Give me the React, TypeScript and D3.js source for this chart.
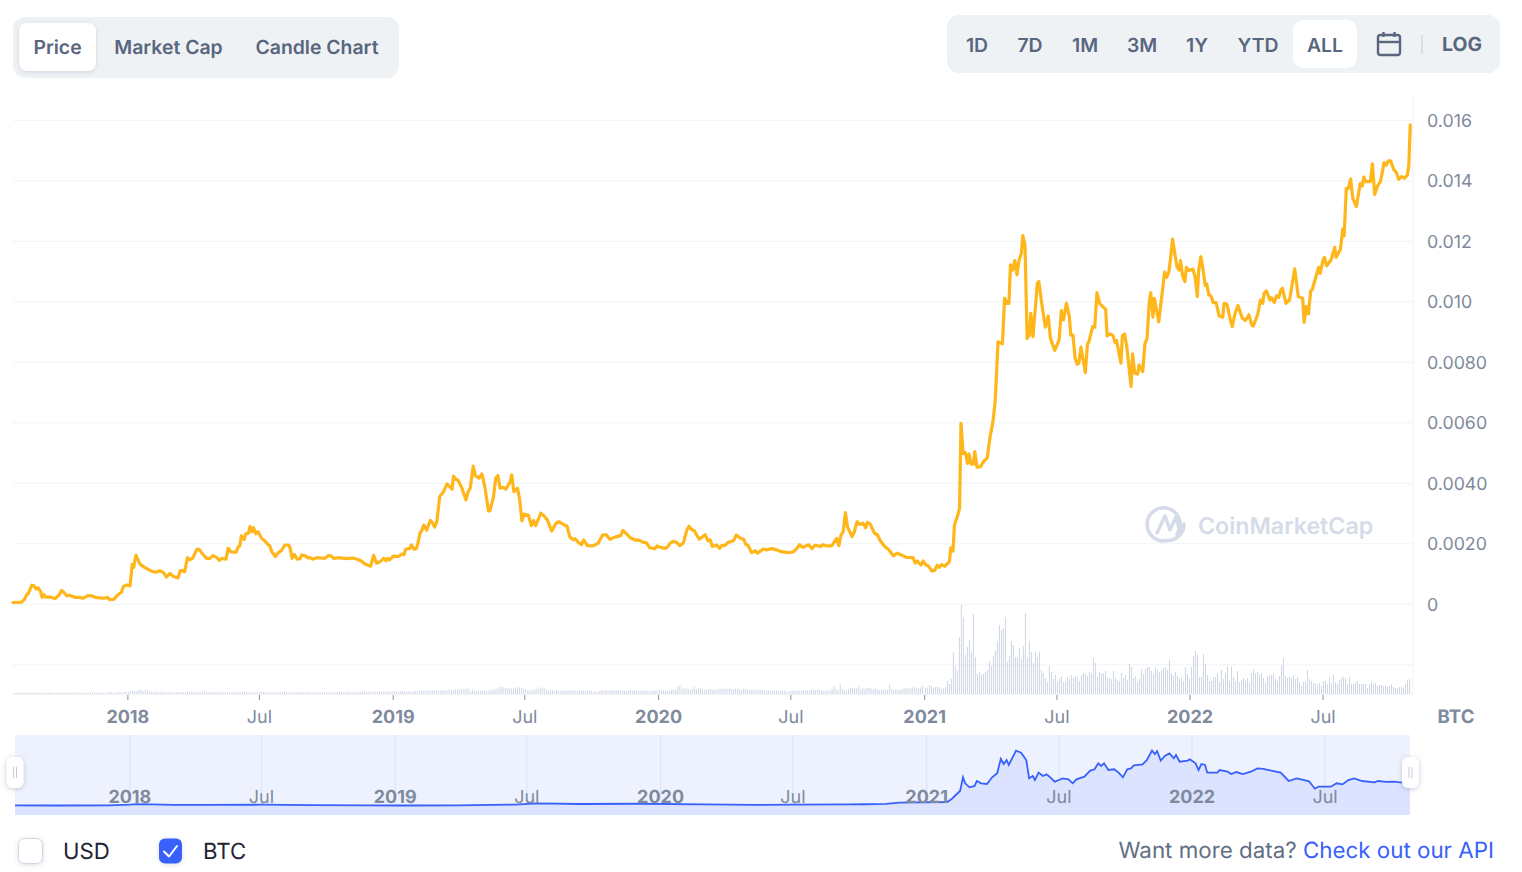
import * as d3 from "d3";

// x values are days since 2018-01-01, y values are BTC
const priceDays = [
  -158,-146,-142,-139,-137,-132,-129,-126,-123,-120,-118,-116,-113,-107,-100,-95,-91,-88,-84,-80,-73,-66,-61,-55,-50,-45,-39,-32,-28,-25,-19,-15,-9,-6,-1,3,6,8,11,14,17,23,33,39,44,49,53,58,62,69,72,75,78,82,85,89,95,98,102,108,113,117,122,126,129,135,138,142,149,152,154,156,160,162,166,168,171,173,176,179,184,189,193,195,198,203,207,211,216,221,223,226,229,233,237,239,244,248,250,254,260,266,271,276,279,283,289,301,310,317,321,326,334,338,342,347,352,355,357,360,365,372,377,380,382,388,390,394,397,399,402,404,407,411,416,419,422,425,429,434,439,446,448,451,454,459,465,468,471,475,478,483,
  487,491,496,498,503,506,509,512,516,520,526,528,531,536,539,542,545,551,555,558,561,568,571,577,583,589,593,599,604,608,613,615,620,624,627,632,640,647,653,658,663,670,678,681,686,691,698,702,709,713,718,725,728,733,739,742,746,750,755,759,764,769,772,776,779,782,786,794,798,801,804,810,814,817,821,826,833,837,842,847,850,853,858,863,866,874,879,886,892,899,908,915,920,924,928,936,941,945,950,953,956,961,968,975,978,981,984,987,990,996,999,1003,1007,1011,1015,1017,1021,1027,1031,1035,1041,1046,1049,1053,1058,1064,1071,1080,1083,1086,1091,1094,1098,1101,1106,1110,1113,1116,1119,1124,1130,1132,1135,1137,1141,
  1144,1146,1149,1152,1155,1157,1160,1163,1165,1168,1173,1177,1182,1186,1190,1193,1197,1203,1206,1209,1212,1214,1217,1220,1223,1226,1229,1231,1234,1237,1240,1242,1245,1251,1253,1257,1262,1266,1269,1275,1281,1284,1287,1291,1295,1297,1300,1303,1306,1308,1311,1317,1320,1322,1327,1330,1333,1337,1345,1347,1351,1355,1358,1360,1366,1368,1371,1374,1380,1382,1385,1389,1391,1396,1399,1402,1405,1407,1410,1412,1418,1421,1423,1426,1429,1432,1434,1437,1439,1443,1446,1448,1451,1454,1456,1459,1465,1468,1471,1473,1476,1479,1482,1484,1487,1490,1493,1497,1501,1506,1508,1512,1516,
  1519,1523,1527,1533,1537,1542,1546,1548,1554,1558,1561,1563,1566,1571,1573,1577,1580,1583,1586,1588,1593,1598,1605,1610,1616,1618,1621,1624,1627,1629,1638,1640,1644,1646,1649,1655,1660,1662,1668,1671,1673,1676,1679,1682,1685,1690,1695,1698,1700,1703,1709,1712,1715,1719,1723,1728,1731,1734,1737,1741,1745,1748,1752,1756,1760,1762,1764,
];
const priceValues = [
  .00006,.00007,.00017,.00033,.00035,.00063,.00061,.0005,.00054,.00042,.00023,.00033,.00024,.00024,.00019,.0003,.00046,.00039,.00028,.0003,.00023,.00023,.0002,.00029,.00028,.00023,.00021,.0002,.00023,.00015,.00017,.00029,.00039,.0006,.00064,.00061,.00132,.00122,.00162,.00147,.00132,.00122,.00109,.00106,.00111,.00105,.0009,.00102,.00093,.00087,.00111,.00112,.00107,.00154,.00147,.00152,.00182,.00182,.00169,.00152,.00152,.00161,.00155,.00145,.00152,.00149,.00185,.00173,.00172,.00191,.00193,.00226,.00214,.00233,.00235,.00257,.0024,.00253,.00233,.0024,.00218,.00208,.00197,.00194,.00174,.00158,.00171,.00177,.00196,.00196,.00188,.00152,.00165,.00149,.00151,.00163,.0016,.00153,.00155,.00149,.00154,.00153,.00152,.00161,.00161,.00152,.00154,.00151,.00153,.00147,.00143,.00133,.00126,.00162,.00136,.00141,.00152,.00144,.00152,.00147,.00159,.00158,.00166,.00164,.00182,.00185,.00196,.00182,.00185,.00202,.00237,.00242,.00262,.00245,.00277,.0027,.00255,.00273,.00356,.00371,.00398,.00381,.00424,.00413,.00411,.00387,.00345,.00372,.00384,.00457,.00425,.00417,
  .00431,.00389,.00309,.00309,.00356,.00417,.00426,.00384,.00387,.00381,.00406,.00428,.00372,.00384,.00345,.00276,.00298,.00294,.0026,.00277,.0026,.00301,.00296,.00279,.00242,.00268,.00273,.00264,.00259,.00222,.00213,.00217,.00204,.00197,.00213,.00194,.00193,.00202,.00229,.0023,.00215,.00222,.00227,.00244,.00233,.0022,.00212,.00213,.00205,.00204,.00187,.00184,.00193,.00188,.00185,.00188,.00202,.00208,.00205,.00194,.00202,.00246,.00258,.00246,.00244,.00231,.00215,.0023,.0021,.00213,.00191,.00196,.00185,.00195,.00194,.00205,.0021,.00229,.00219,.00215,.00198,.00195,.00171,.00177,.00169,.00183,.0018,.00184,.0018,.00174,.00171,.00173,.00184,.00197,.00188,.00197,.00184,.00195,.00193,.00191,.00197,.00193,.00193,.00218,.00194,.00229,.0024,.00303,.00255,.00224,.00237,.00273,.00264,.00268,.00253,.00271,.00266,.00235,.0023,.0021,.00191,.00182,.00173,.0016,.00169,.00163,.00155,.00154,.00136,.00143,.0013,.00143,.00129,.00127,.0011,.00112,.00129,.00122,.00131,.00126,.00141,.00187,.00176,.00262,.0029,
  .00317,.00598,.00499,.00501,.00466,.00497,.00463,.00463,.00505,.00453,.00455,.00472,.00483,.00554,.00604,.0067,.00868,.00861,.01012,.00995,.00995,.01122,.01105,.01136,.01089,.01138,.0116,.01219,.01188,.00879,.0089,.00962,.00885,.01061,.01067,.00995,.00916,.00953,.00879,.00839,.00874,.00971,.0094,.00995,.00951,.0089,.0089,.00813,.00793,.00797,.0085,.00766,.00861,.00868,.00918,.00916,.0103,.00993,.00975,.00887,.00894,.00889,.00865,.00872,.00797,.00887,.00894,.00852,.0072,.00828,.00764,.00761,.00791,.00769,.00861,.00879,.01001,.0103,.00949,.01011,.00934,.00995,.01034,.01098,.01081,.011,.01138,.01207,.01177,.01116,.01105,.01136,.01083,.01067,.01114,.01103,.01108,.01083,.01017,.01105,.01149,.01105,.01054,.01059,.01023,.01019,.00997,.00997,.00954,.00949,.00995,.00991,.00946,
  .00918,.00962,.00988,.00946,.00938,.00957,.00923,.0092,.00957,.01006,.00995,.01028,.01036,.01006,.01014,.00998,.0102,.01014,.01039,.01045,.00995,.01006,.01109,.01017,.01012,.00932,.00984,.0096,.01036,.01039,.01114,.01094,.01138,.01147,.01119,.01138,.0118,.01147,.01174,.0124,.01218,.01375,.01375,.01406,.01342,.01315,.0139,.01383,.01412,.01397,.01397,.01456,.01355,.01383,.01397,.0146,.01452,.01466,.01466,.01438,.01427,.01405,.01414,.01409,.01419,.01452,.01585,
];

// relative traded volume, one bar every 2.75 days or so
const volumeEarly = [
  3,4,3,4,3,4,4,3,4,3,4,4,3,4,4,3,4,4,4,3,4,4,3,4,5,4,4,3,4,4,5,4,3,4,4,4,5,4,4,3,4,5,4,4,5,5,6,4,5,5,6,5,6,6,7,8,9,9,8,12,13,9,14,10,7,6,6,7,6,7,6,6,6,
  5,6,5,5,6,5,6,6,5,6,5,7,6,6,6,7,6,7,6,5,6,6,5,6,5,6,5,5,6,5,5,6,6,7,6,6,5,6,5,6,5,5,6,5,6,5,5,5,6,5,6,5,5,6,5,6,6,5,5,6,5,6,5,6,5,5,6,5,5,6,5,6,5,5,6,5,5,6,5,5,6,6,5,6,6,7,6,6,7,6,7,6,7,7,6,7,7,6,7,8,7,7,8,7,8,8,7,8,8,7,8,9,8,8,9,8,9,9,10,9,10,9,10,10,11,10,11,10,10,11,12,12,11,13,12,12,14,13,13,15,14,16,18,
];
const volumeMiddle = [
  8,14,10,9,9,9,9,9,10,10,12,13,14,16,20,22,20,19,17,17,16,17,20,19,20,18,15,14,11,10,13,12,16,16,19,20,17,13,11,11,11,8,13,10,9,10,10,10,10,12,10,10,10,10,10,10,10,10,10,9,6,6,6,9,13,10,11,10,10,12,11,10,12,10,10,10,9,10,12,10,10,10,10,10,10,10,9,9,9,10,10,11,12,12,10,9,9,10,13,13,13,22,25,17,17,17,15,13,15,21,14,17,17,14,13,13,15,15,13,13,13,16,16,16,16,15,17,15,15,17,15,14,13,16,15,14,13,13,13,11,13,13,12,12,10,10,10,10,10,10,9,9,10,10,7,7,10,12,9,10,10,10,12,10,12,10,14,12,12,14,12,12,9,9,12,10,16,25,14,12,31,16,12,12,15,18,20,18,17,22,14,17,15,20,18,17,14,17,14,12,13,13,13,13,28,14,12,14,12,12,14,19,19,17,17,20,20,17,18,20,26,
];
const volumeLate = [
  19,20,27,24,18,21,21,21,15,18,20,39,30,45,126,85,69,171,268,231,117,141,162,126,240,111,60,66,57,60,66,72,99,84,114,129,159,207,192,198,231,96,114,159,147,111,111,138,105,144,243,108,159,126,93,126,111,126,72,63,48,36,84,66,45,57,36,45,54,36,36,51,45,57,48,54,51,39,57,63,63,54,66,63,108,93,51,66,60,63,69,48,48,45,69,48,42,39,63,48,57,42,90,81,48,54,36,45,75,60,75,81,81,69,60,78,72,66,72,78,81,72,102,63,
  54,66,54,45,48,39,81,60,45,81,114,129,117,51,51,120,90,57,39,39,51,51,60,36,72,45,63,84,39,81,51,39,69,36,42,48,39,48,33,63,75,63,66,57,63,48,33,54,54,57,60,45,39,54,84,108,54,48,51,48,57,45,51,36,24,36,36,72,45,39,33,33,27,33,24,39,39,30,48,33,57,36,30,42,48,51,48,30,51,30,30,33,39,30,30,30,30,18,30,36,30,33,24,27,27,24,24,21,24,30,21,18,18,21,21,18,30,42,45,
];

// navigator series, USD
const navDays = [
  -158,-100,-30,0,10,30,60,100,180,250,330,370,450,530,560,620,700,790,860,910,990,1010,1040,1059,1124,1130,1136,1142,1146,1149,1155,1162,1165,1171,1179,1186,1193,1198,1202,1206,1209,1214,1219,1226,1233,1237,1242,1245,1250,1256,1261,1266,1272,1278,1283,1291,1297,1302,1313,1321,1327,1332,1336,1340,1346,1354,1360,1366,1372,1377,1381,1393,1399,1406,1410,1413,1418,1424,1430,1436,1439,1444,1455,1458,1466,1470,1474,1479,1482,1496,1499,1510,1515,1522,1531,1542,1551,1559,1570,1583,1594,1605,1611,1622,1630,1635,1643,1652,1660,1668,1676,1684,1695,1712,1717,1728,1739,1750,1765,
];
const navValues = [
  8,6,9,16,24,20,14,14,16,12,8,6,8,18,32,25,28,20,15,16,20,22,27,42,50,83,137,187,358,283,233,250,312,283,275,358,408,587,524,574,512,603,691,666,574,345,374,324,416,374,395,358,304,324,345,333,283,333,366,441,458,532,499,532,449,458,416,358,458,470,508,520,574,691,649,686,566,628,657,595,636,553,566,582,532,449,524,512,416,416,449,428,399,424,399,428,470,462,441,416,312,345,333,308,216,241,241,241,283,270,324,345,312,295,312,300,304,291,285,
];

const yTickValues = [0.016, 0.014, 0.012, 0.01, 0.008, 0.006, 0.004, 0.002, 0];
const yTickLabels = ["0.016", "0.014", "0.012", "0.010", "0.0080", "0.0060", "0.0040", "0.0020", "0"];
const xTickDays = [0, 181, 365, 546, 730, 912, 1096, 1278, 1461, 1644];
const xTickLabels = ["2018", "Jul", "2019", "Jul", "2020", "Jul", "2021", "Jul", "2022", "Jul"];
const chartTabs = ["Price", "Market Cap", "Candle Chart"];
const rangeTabs = ["1D", "7D", "1M", "3M", "1Y", "YTD", "ALL"];

const FONT = "Inter, sans-serif";
const GRID = "#f1f3f6";
const MUTED = "#808a9d";
const TAB_TEXT = "#58667e";

const x = d3.scaleLinear().domain([-158, 1765]).range([13, 1411]);
const y = d3.scaleLinear().domain([0, 0.016]).range([604.3, 120.3]);
const volY = d3.scaleLinear().domain([0, 268]).range([694, 604.7]);
const navY = d3.scaleLinear().domain([0, 690]).range([806, 750.7]);

const pricePoints = priceDays.map((d, i) => [d, priceValues[i]] as [number, number]);
const navPoints = navDays.map((d, i) => [d, navValues[i]] as [number, number]);

const priceLine = d3.line<[number, number]>().x((d) => x(d[0])).y((d) => y(d[1]));
const navLine = d3.line<[number, number]>().x((d) => x(d[0]) + 2).y((d) => navY(d[1]));
const navArea = d3
  .area<[number, number]>()
  .x((d) => x(d[0]) + 2)
  .y0(815)
  .y1((d) => navY(d[1]));

function spread(values: number[], start: number, end: number) {
  return values.map((v, i) => ({ day: start + (i * (end - start)) / (values.length - 1), v }));
}
const volumeBars = [
  ...spread(volumeEarly, -156, 468),
  ...spread(volumeMiddle, 471, 1093),
  ...spread(volumeLate, 1097, 1763),
];

const isYear = (label: string) => label !== "Jul";

function Handle({ cx }: { cx: number }) {
  return (
    <g>
      <rect x={cx - 8.5} y={757} width={17} height={31} rx={6} fill="#fff" filter="url(#handleShadow)" />
      <line x1={cx - 1.5} x2={cx - 1.5} y1={767} y2={778} stroke="#c4c9d4" />
      <line x1={cx + 1.5} x2={cx + 1.5} y1={767} y2={778} stroke="#c4c9d4" />
    </g>
  );
}

export default function App() {
  const chartTabX = [57.5, 168.5, 317];
  const rangeTabX = [977, 1030, 1085, 1142, 1197, 1258, 1325];
  return (
    <>
      <style>{"body{margin:0;background:#fff}"}</style>
      <svg width={1522} height={872} style={{ display: "block", fontFamily: FONT }} textRendering="geometricPrecision">
        <defs>
          <filter id="softShadow" x="-50%" y="-50%" width="200%" height="200%">
            <feDropShadow dx="0" dy="1" stdDeviation="2" floodColor="#58667e" floodOpacity="0.22" />
          </filter>
          <filter id="handleShadow" x="-80%" y="-50%" width="260%" height="200%">
            <feDropShadow dx="0" dy="1" stdDeviation="2.5" floodColor="#58667e" floodOpacity="0.35" />
          </filter>
          <clipPath id="navClip">
            <rect x={15} y={735} width={1395} height={80} />
          </clipPath>
        </defs>

        {/* tabs */}
        <rect x={13} y={17} width={386} height={61} rx={12} fill="#eff2f5" />
        <rect x={19} y={23} width={77} height={48} rx={8} fill="#fff" filter="url(#softShadow)" />
        {chartTabs.map((t, i) => (
          <text key={t} x={chartTabX[i]} y={54} textAnchor="middle" fontSize={19.4} fontWeight={600} fill={TAB_TEXT}>
            {t}
          </text>
        ))}
        <rect x={947} y={15} width={553} height={58} rx={12} fill="#eff2f5" />
        <rect x={1293} y={20} width={64} height={48} rx={10} fill="#fff" />
        {rangeTabs.map((t, i) => (
          <text key={t} x={rangeTabX[i]} y={52} textAnchor="middle" fontSize={19.4} fontWeight={600} fill={TAB_TEXT}>
            {t}
          </text>
        ))}
        <g fill="none" stroke={TAB_TEXT} strokeWidth={2.4}>
          <rect x={1378} y={35} width={22} height={20} rx={2.5} />
          <line x1={1378} x2={1400} y1={42} y2={42} />
          <line x1={1383.5} x2={1383.5} y1={32} y2={37} />
          <line x1={1394.5} x2={1394.5} y1={32} y2={37} />
        </g>
        <line x1={1422} x2={1422} y1={35} y2={54} stroke="#cfd6e4" strokeWidth={1.5} />
        <text x={1462} y={51} textAnchor="middle" fontSize={19.4} fontWeight={700} fill={TAB_TEXT}>
          LOG
        </text>

        {/* grid */}
        {yTickValues.map((v) => (
          <line key={v} x1={13} x2={1413} y1={y(v)} y2={y(v)} stroke={GRID} />
        ))}
        <line x1={13} x2={1413} y1={y(-0.002)} y2={y(-0.002)} stroke={GRID} />
        <line x1={13} x2={1413} y1={694.5} y2={694.5} stroke={GRID} />
        <line x1={1413} x2={1413} y1={97} y2={695} stroke={GRID} />

        {/* watermark */}
        <g fill="none" stroke="#d5dbe8" strokeWidth={3.6} strokeLinecap="round" strokeLinejoin="round">
          <path d="M1177 534 A16.5 16.5 0 1 0 1167 540.5 A16.5 16.5 0 0 0 1184 524" />
          <path d="M1157 533 L1165 516 L1170 530 L1176 517 L1179 528 L1183 530" />
        </g>
        <text x={1198} y={534} fontSize={23.2} fontWeight={600} fill="#d5dbe8">
          CoinMarketCap
        </text>

        {/* volume */}
        {volumeBars.map((b, i) => (
          <rect key={i} x={x(b.day) - 0.5} y={volY(b.v)} width={1} height={694 - volY(b.v)} fill="#cfd6e4" />
        ))}

        {/* price */}
        <path
          d={priceLine(pricePoints) ?? ""}
          fill="none"
          stroke="#ffb61a"
          strokeWidth={3.2}
          strokeLinejoin="round"
          strokeLinecap="round"
        />

        {/* axes */}
        {yTickValues.map((v, i) => (
          <text key={v} x={1427} y={y(v)} dy="0.37em" fontSize={17.8} fill={MUTED}>
            {yTickLabels[i]}
          </text>
        ))}
        {xTickDays.map((d, i) => (
          <g key={d}>
            <line x1={x(d)} x2={x(d)} y1={695} y2={700} stroke="#858ca2" />
            <text
              x={x(d)}
              y={723}
              textAnchor="middle"
              fontSize={18}
              fontWeight={isYear(xTickLabels[i]) ? 700 : 400}
              fill={MUTED}
            >
              {xTickLabels[i]}
            </text>
          </g>
        ))}
        <text x={1456} y={723} textAnchor="middle" fontSize={18.6} fontWeight={700} fill={MUTED}>
          BTC
        </text>

        {/* navigator */}
        <rect x={15} y={735} width={1395} height={80} fill="#eef2fe" />
        <g clipPath="url(#navClip)">
          <path d={navArea(navPoints) ?? ""} fill="#3861fb" fillOpacity={0.1} />
          {xTickDays.map((d) => (
            <line key={d} x1={x(d) + 2} x2={x(d) + 2} y1={735} y2={815} stroke="#dbe2f5" />
          ))}
          <path d={navLine(navPoints) ?? ""} fill="none" stroke="#3861fb" strokeWidth={1.8} />
        </g>
        {xTickDays.map((d, i) => (
          <text
            key={d}
            x={x(d) + 2}
            y={803}
            textAnchor="middle"
            fontSize={18}
            fontWeight={isYear(xTickLabels[i]) ? 700 : 400}
            fill={MUTED}
          >
            {xTickLabels[i]}
          </text>
        ))}
        <Handle cx={15} />
        <Handle cx={1410.5} />

        {/* legend */}
        <rect x={18.5} y={838.5} width={24} height={25} rx={6} fill="#fff" stroke="#cfd6e4" filter="url(#softShadow)" />
        <text x={63} y={859} fontSize={22.2} fill="#222531">
          USD
        </text>
        <rect x={159} y={838.5} width={23} height={25} rx={6} fill="#3861fb" filter="url(#softShadow)" />
        <path d="M164 851.5 L169 856.5 L177 846" fill="none" stroke="#fff" strokeWidth={2} strokeLinecap="round" strokeLinejoin="round" />
        <text x={203} y={859} fontSize={22.2} fill="#222531">
          BTC
        </text>
        <text x={1494} y={858} textAnchor="end" fontSize={22.35} fill="#616e85">
          Want more data?{" "}
          <tspan fill="#3861fb">Check out our API</tspan>
        </text>
      </svg>
    </>
  );
}
